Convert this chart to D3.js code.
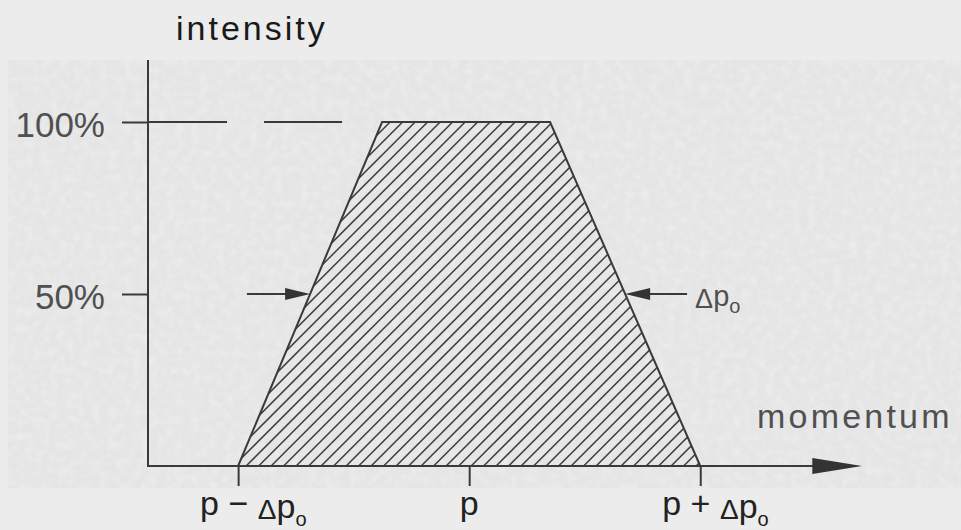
<!DOCTYPE html>
<html>
<head>
<meta charset="utf-8">
<script src="https://cdn.jsdelivr.net/npm/d3@7"></script>
<style>
  html, body { margin: 0; padding: 0; background: #ececec; }
  svg { display: block; }
  text { font-family: "Liberation Sans", Arial, sans-serif; }
</style>
</head>
<body>
<div id="chart"></div>
<script>
// Momentum is measured in units of Δp₀ around the central momentum p.
const momentumTicks = [-1, 0, 1];
const momentumTickLabels = [
  [{ t: "p − ", s: "main" }, { t: "Δ", s: "delta" }, { t: "p", s: "main" }, { t: "o", s: "sub" }],
  [{ t: "p", s: "main" }],
  [{ t: "p + ", s: "main" }, { t: "Δ", s: "delta" }, { t: "p", s: "main" }, { t: "o", s: "sub" }]
];
const intensityTicks = [50, 100];
const intensityTickLabels = ["50%", "100%"];

// Trapezoidal acceptance profile (momentum, intensity %)
const profileMomentum = [-1, -0.377, 0.35, 1];
const profileIntensity = [0, 100, 100, 0];

// Half-maximum markers: arrow tails (momentum units) at 50 % intensity
const halfMaxLevel = 50;
const halfMaxArrowTails = [-0.962, 0.943];

// 100 % reference line ends at this momentum
const fullLineEnd = -0.55;

const W = 961, H = 530;
const axisColor = "#3a3a3a";
const labelGray = "#505050";

const svg = d3.select("#chart").append("svg")
  .attr("width", W).attr("height", H);

const defs = svg.append("defs");

// paper grain for the scanned panel
const grain = defs.append("filter").attr("id", "grain")
  .attr("x", 0).attr("y", 0).attr("width", 1).attr("height", 1);
grain.append("feTurbulence").attr("type", "fractalNoise")
  .attr("baseFrequency", 0.12).attr("numOctaves", 2).attr("seed", 4).attr("result", "n");
grain.append("feColorMatrix").attr("in", "n").attr("type", "matrix")
  .attr("values", "0 0 0 0 1  0 0 0 0 1  0 0 0 0 1  0 0 0 1.4 -0.55");

// panel
svg.append("rect").attr("x", 8).attr("y", 60).attr("width", W - 8).attr("height", 428)
  .attr("fill", "#e5e5e5");
svg.append("rect").attr("x", 8).attr("y", 60).attr("width", W - 8).attr("height", 428)
  .attr("filter", "url(#grain)").attr("opacity", 0.4);

// scales
const x = d3.scaleLinear().domain([-1.39, 1.70]).range([148, 862]);
const y = d3.scaleLinear().domain([0, 100]).range([466, 122]);
const yAxisTop = 118;

// trapezoid outline + hatching
const pts = profileMomentum.map((m, i) => [x(m), y(profileIntensity[i])]);
defs.append("clipPath").attr("id", "trap")
  .append("path").attr("d", d3.line()(pts) + "Z");

const hatch = svg.append("g").attr("clip-path", "url(#trap)");
const spacing = 12.5;
const x0 = x(-1), x1 = x(1), yb = y(0), yt = y(100);
const hgt = yb - yt;
d3.range(x0 - hgt - spacing, x1 + spacing, spacing).forEach(sx => {
  hatch.append("line")
    .attr("x1", sx).attr("y1", yb + 2)
    .attr("x2", sx + hgt + 4).attr("y2", yt - 2)
    .attr("stroke", "#3f3f3f").attr("stroke-width", 1.5);
});

svg.append("path").attr("d", d3.line()(pts))
  .attr("fill", "none").attr("stroke", axisColor).attr("stroke-width", 2)
  .attr("stroke-linejoin", "miter");

// 100 % dashed reference line
svg.append("line")
  .attr("x1", x(-1.39)).attr("x2", x(fullLineEnd))
  .attr("y1", y(100)).attr("y2", y(100))
  .attr("stroke", axisColor).attr("stroke-width", 2)
  .attr("stroke-dasharray", "79 37");

// y axis
const yAxis = d3.axisLeft(y).tickValues(intensityTicks).tickSize(26).tickPadding(17)
  .tickFormat((d, i) => intensityTickLabels[i]);
const gy = svg.append("g").attr("transform", `translate(${x(-1.39)},0)`).call(yAxis);
gy.select(".domain").remove();
gy.selectAll(".tick line").attr("stroke", axisColor).attr("stroke-width", 2);
gy.selectAll(".tick text")
  .attr("font-size", 35).attr("fill", labelGray).attr("dy", "0.4em")
  .style("font-family", '"Liberation Sans", Arial, sans-serif');
svg.append("line")
  .attr("x1", x(-1.39)).attr("x2", x(-1.39))
  .attr("y1", y(0) + 1).attr("y2", y(yAxisTop))
  .attr("stroke", axisColor).attr("stroke-width", 2);

// x axis
const xAxis = d3.axisBottom(x).tickValues(momentumTicks).tickSize(20).tickFormat("");
const gx = svg.append("g").attr("transform", `translate(0,${y(0)})`).call(xAxis);
gx.select(".domain").remove();
gx.selectAll(".tick line").attr("stroke", axisColor).attr("stroke-width", 2);
svg.append("line")
  .attr("x1", x(-1.39) - 1).attr("x2", x(1.5))
  .attr("y1", y(0)).attr("y2", y(0))
  .attr("stroke", axisColor).attr("stroke-width", 2);
// x axis arrowhead
svg.append("path")
  .attr("d", `M${x(1.70)},${y(0)} L${x(1.485)},${y(0) - 8} L${x(1.485)},${y(0) + 8} Z`)
  .attr("fill", "#333");

// x tick labels
const sizes = { main: 34, delta: 28, sub: 20 };
momentumTicks.forEach((m, i) => {
  const parts = momentumTickLabels[i];
  const t = svg.append("text")
    .attr("y", 515).attr("fill", "#222")
    .attr("x", parts.length === 1 ? x(m) : x(m) - 38)
    .attr("text-anchor", parts.length === 1 ? "middle" : "start");
  parts.forEach(p => {
    const ts = t.append("tspan").text(p.t).attr("font-size", sizes[p.s]);
    if (p.s === "delta") ts.attr("dy", 4);
    if (p.s === "main" && p.t === "p" && parts.length > 1) ts.attr("dy", -1);
    if (p.s === "sub") ts.attr("dy", 8);
  });
});

// axis titles
svg.append("text").attr("x", x(-1.39) + 28).attr("y", 40)
  .attr("font-size", 34).attr("fill", "#1a1a1a").attr("letter-spacing", 3)
  .text("intensity");
svg.append("text").attr("x", x(1.246)).attr("y", 428)
  .attr("font-size", 34).attr("fill", labelGray).attr("letter-spacing", 3.2)
  .text("momentum");

// half-maximum arrows
const halfLeft = (profileMomentum[0] + profileMomentum[1]) / 2;
const halfRight = (profileMomentum[2] + profileMomentum[3]) / 2;
const yh = y(halfMaxLevel);
function arrow(tail, tip) {
  const tx = x(tail), hx = x(tip);
  const dir = Math.sign(hx - tx);
  svg.append("line").attr("x1", tx).attr("y1", yh).attr("x2", hx - dir * 20).attr("y2", yh)
    .attr("stroke", axisColor).attr("stroke-width", 2);
  svg.append("path")
    .attr("d", `M${hx},${yh} L${hx - dir * 25},${yh - 6} L${hx - dir * 25},${yh + 6} Z`)
    .attr("fill", "#333");
}
arrow(halfMaxArrowTails[0], halfLeft);
arrow(halfMaxArrowTails[1], halfRight);

// Δp₀ annotation next to the right arrow
const ann = svg.append("text").attr("x", x(halfMaxArrowTails[1]) + 8).attr("y", yh + 14)
  .attr("fill", labelGray);
ann.append("tspan").text("Δ").attr("font-size", 27);
ann.append("tspan").text("p").attr("font-size", 29).attr("dy", -2);
ann.append("tspan").text("o").attr("font-size", 20).attr("dy", 7);
</script>
</body>
</html>
